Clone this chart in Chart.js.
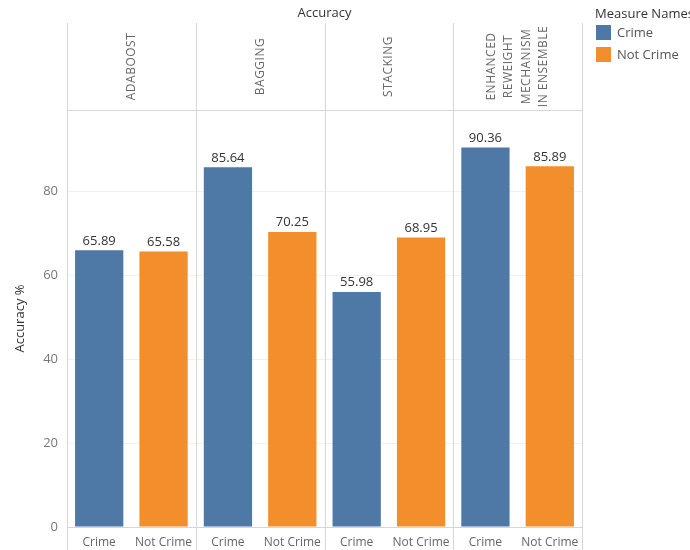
<!DOCTYPE html>
<html>
<head>
<meta charset="utf-8">
<script src="https://cdn.jsdelivr.net/npm/chart.js@4.4.1/dist/chart.umd.min.js"></script>
<style>
  body { margin: 0; background: #fff; }
  canvas { display: block; }
</style>
</head>
<body>
<canvas id="accuracy-chart" width="690" height="550"></canvas>
<script>
// methods shown as column headers, two measures per method
var methods = [
  ['ADABOOST'],
  ['BAGGING'],
  ['STACKING'],
  ['ENHANCED', 'REWEIGHT', 'MECHANISM', 'IN ENSEMBLE']
];
var measureNames = ['Crime', 'Not Crime'];
var crimeValues = [65.89, 85.64, 55.98, 90.36];
var notCrimeValues = [65.58, 70.25, 68.95, 85.89];
var yTicks = [0, 20, 40, 60, 80];

var blue = '#4e79a7';
var orange = '#f28e2b';
var lineColor = '#d6d6d6';
var font = '"Open Sans", sans-serif';

// one slot per bar: Crime, Not Crime, Crime, Not Crime ...
var labels = [];
var crimeData = [];
var notCrimeData = [];
methods.forEach(function(m, i) {
  labels.push(measureNames[0], measureNames[1]);
  crimeData.push(crimeValues[i], null);
  notCrimeData.push(null, notCrimeValues[i]);
});

var headerTop = 23;

var tableauPlugin = {
  id: 'tableau',
  beforeDatasetsDraw: function(chart) {
    var c = chart.ctx;
    var area = chart.chartArea;
    var panelW = (area.right - area.left) / methods.length;
    c.save();
    c.strokeStyle = lineColor;
    c.lineWidth = 1;
    // vertical panel lines
    for (var i = 0; i <= methods.length; i++) {
      var x = Math.round(area.left + i * panelW) + 0.5;
      c.beginPath();
      c.moveTo(x, headerTop);
      c.lineTo(x, chart.height);
      c.stroke();
    }
    // header bottom line
    c.beginPath();
    c.moveTo(area.left, Math.round(area.top) + 0.5);
    c.lineTo(area.right, Math.round(area.top) + 0.5);
    c.stroke();

    // rotated method headers
    c.fillStyle = '#666';
    c.font = '12px ' + font;
    c.letterSpacing = '0.5px';
    c.textAlign = 'center';
    c.textBaseline = 'middle';
    var midY = (headerTop + area.top) / 2;
    methods.forEach(function(lines, i) {
      var cx = area.left + (i + 0.5) * panelW;
      var lh = 17.5;
      lines.forEach(function(t, j) {
        var lx = cx + (j - (lines.length - 1) / 2) * lh;
        c.save();
        c.translate(lx, midY);
        c.rotate(-Math.PI / 2);
        c.fillText(t, 0, 0);
        c.restore();
      });
    });
    c.letterSpacing = '0px';

    // column title
    c.fillStyle = '#333';
    c.font = '13px ' + font;
    c.fillText('Accuracy', (area.left + area.right) / 2, 13);
    c.restore();
  },
  afterDatasetsDraw: function(chart) {
    var c = chart.ctx;
    c.save();
    c.fillStyle = '#333';
    c.font = '13px ' + font;
    c.textAlign = 'center';
    c.textBaseline = 'bottom';
    chart.data.datasets.forEach(function(ds, di) {
      chart.getDatasetMeta(di).data.forEach(function(bar, i) {
        var v = ds.data[i];
        if (v === null) return;
        c.fillText(v.toFixed(2), bar.x, bar.y - 3);
      });
    });

    // legend
    var lx = 595;
    c.textAlign = 'left';
    c.textBaseline = 'middle';
    c.fillStyle = '#333';
    c.fillText('Measure Names', lx, 14);
    chart.data.datasets.forEach(function(ds, di) {
      var y = 25 + di * 22;
      c.fillStyle = ds.backgroundColor;
      c.fillRect(lx + 1, y, 15, 15);
      c.fillStyle = '#555';
      c.fillText(ds.label, lx + 22, y + 8);
    });
    c.restore();
  }
};

new Chart(document.getElementById('accuracy-chart'), {
  type: 'bar',
  data: {
    labels: labels,
    datasets: [{
      label: measureNames[0],
      data: crimeData,
      backgroundColor: blue,
      barPercentage: 0.75,
      categoryPercentage: 1
    }, {
      label: measureNames[1],
      data: notCrimeData,
      backgroundColor: orange,
      barPercentage: 0.75,
      categoryPercentage: 1
    }]
  },
  options: {
    responsive: false,
    animation: false,
    layout: { padding: { left: 0, top: 110, right: 108, bottom: 0 } },
    plugins: {
      legend: { display: false },
      tooltip: { enabled: false }
    },
    scales: {
      x: {
        stacked: true,
        grid: { display: false },
        border: { color: lineColor },
        ticks: {
          color: '#666',
          font: { family: font, size: 12 },
          padding: 0,
          maxRotation: 0,
          autoSkip: false
        },
        afterFit: function(scale) { scale.height = 23; }
      },
      y: {
        min: 0,
        max: 99.3,
        grid: { color: '#f0f0f0', drawTicks: false },
        border: { display: false },
        afterBuildTicks: function(scale) {
          scale.ticks = yTicks.map(function(v) { return { value: v }; });
        },
        ticks: {
          color: '#777',
          font: { family: font, size: 13 },
          padding: 9
        },
        title: {
          display: true,
          text: 'Accuracy %',
          color: '#333',
          font: { family: font, size: 13 },
          padding: { top: 12, bottom: 0 }
        },
        afterFit: function(scale) { scale.width = 67; }
      }
    }
  },
  plugins: [tableauPlugin]
});
</script>
</body>
</html>
